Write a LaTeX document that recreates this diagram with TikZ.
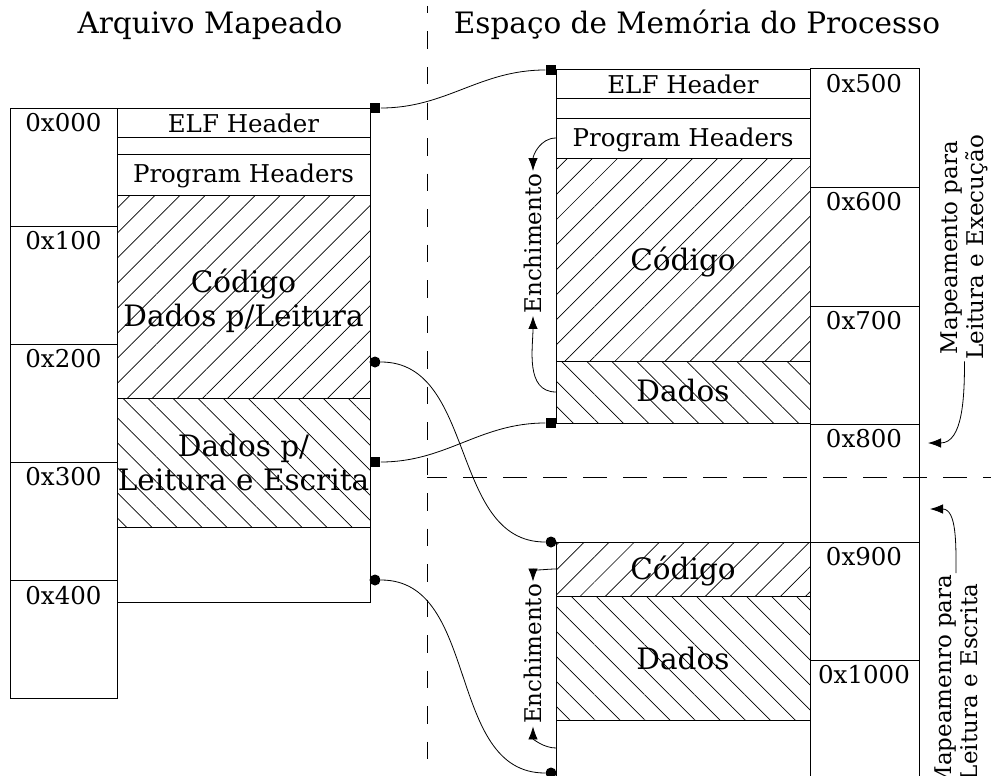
\documentclass[tikz,border=0pt]{standalone}
\usepackage{fontspec}
\setmainfont{DejaVu Serif}
\usetikzlibrary{arrows.meta,patterns.meta}

\begin{document}
\begin{tikzpicture}[x=1pt, y=1pt, line width=1pt,
        small/.style={font=\fontsize{24.5}{28}\selectfont},
        side/.style={font=\fontsize{23}{26}\selectfont},
        big/.style={font=\fontsize{29.5}{34}\selectfont},
        sqmark/.style={fill=black, minimum size=10.5pt, inner sep=0pt},
        dotmark/.style={circle, fill=black, minimum size=11pt, inner sep=0pt},
        codehatch/.style={pattern={Lines[angle=45, distance=17.7pt, line width=0.7pt]}},
        datahatch/.style={pattern={Lines[angle=-45, distance=17.7pt, line width=0.7pt]}},
        fillarrow/.style={-{Latex[length=13pt, width=9.5pt]}, line width=0.8pt},
        vdash/.style={dash pattern=on 17.5pt off 18pt, dash phase=10pt},
        hdash/.style={dash pattern=on 24pt off 16pt, dash phase=4pt}]
        \useasboundingbox (0,0) rectangle (991,-776);

        \node[big, anchor=base] (tfile) at (210,-34) {Arquivo Mapeado};
        \node[big, anchor=base] (tmem) at (697,-34) {Espaço de Memória do Processo};

        \draw[vdash] (427,-6) -- (427,-776);
        \draw[hdash] (427,-477) -- (991,-477);

        % arquivo
        \draw (10,-108) rectangle (117,-698);
        \foreach \y in {226,344,462,580} \draw (10,-\y) -- (117,-\y);
        \foreach \y/\t [count=\i] in {131/0x000,249/0x100,367/0x200,485/0x300,604/0x400}
            \node[small, anchor=base] (faddr\i) at (63.5,-\y) {\t};
        \path[codehatch] (117,-195) rectangle (370,-398);
        \path[datahatch] (117,-398) rectangle (370,-527);
        \draw (117,-108) rectangle (370,-602);
        \foreach \y in {137,154,195,398,527} \draw (117,-\y) -- (370,-\y);
        \node[small, anchor=base] (felf) at (243.5,-132.3) {ELF Header};
        \node[small, anchor=base] (fph) at (243.5,-182.7) {Program Headers};
        \node[big, align=center] (fcode) at (243.5,-300.3) {Código\\Dados p/Leitura};
        \node[big, align=center] (fdata) at (243.5,-462.4) {Dados p/\\Leitura e Escrita};

        % memoria
        \path[codehatch] (556,-158) rectangle (810,-361);
        \path[datahatch] (556,-361) rectangle (810,-423);
        \draw (556,-70) rectangle (810,-423);
        \foreach \y in {98,118,158,361} \draw (556,-\y) -- (810,-\y);
        \path[codehatch] (556,-542) rectangle (810,-596);
        \path[datahatch] (556,-596) rectangle (810,-720);
        \draw (556,-790) -- (556,-542) -- (810,-542);
        \foreach \y in {596,720} \draw (556,-\y) -- (810,-\y);
        \draw (810,-790) -- (810,-69) -- (919,-69) -- (919,-790);
        \foreach \y in {187,306,424,542,660} \draw (810,-\y) -- (919,-\y);
        \foreach \y/\t [count=\i] in {92.5/0x500,210.5/0x600,329.5/0x700,447.5/0x800,565.5/0x900,683.5/0x1000}
            \node[small, anchor=base] (maddr\i) at (864,-\y) {\t};
        \node[small, anchor=base] (melf) at (683,-94) {ELF Header};
        \node[small, anchor=base] (mph) at (683,-146) {Program Headers};
        \node[big, anchor=base] (mcode) at (683,-270) {Código};
        \node[big, anchor=base] (mdata) at (683,-401.7) {Dados};
        \node[big, anchor=base] (mcodew) at (683,-579) {Código};
        \node[big, anchor=base] (mdataw) at (683,-669) {Dados};

        % ligacoes
        \node[sqmark] (fs1) at (375,-108) {};
        \node[dotmark] (fd1) at (375,-362) {};
        \node[sqmark] (fs2) at (375,-462) {};
        \node[dotmark] (fd2) at (375,-580) {};
        \node[sqmark] (ms1) at (551,-70) {};
        \node[sqmark] (ms2) at (551,-423) {};
        \node[dotmark] (md1) at (551,-542) {};
        \node[dotmark] (md2) at (551,-773) {};
        \draw[line width=0.8pt] (fs1) to[out=0, in=180] (ms1);
        \draw[line width=0.8pt] (fs2) to[out=0, in=180] (ms2);
        \draw[line width=0.8pt] (fd1) to[out=0, in=180] (md1);
        \draw[line width=0.8pt] (fd2) to[out=0, in=180] (md2);

        % enchimento
        \node[side, rotate=90, inner sep=2pt] (padx) at (533,-243.5) {Enchimento};
        \node[side, rotate=90, inner sep=2pt] (padw) at (533,-654) {Enchimento};
        \coordinate (padx1) at (556,-138);
        \coordinate (padx2) at (556,-392);
        \coordinate (padw1) at (556,-569);
        \coordinate (padw2) at (556,-748);
        \draw[fillarrow] (padx1) to[out=180, in=90] (padx.east);
        \draw[fillarrow] (padx2) to[out=180, in=-90] (padx.west);
        \draw[fillarrow] (padw1) to[out=180, in=90] (padw.east);
        \draw[fillarrow] (padw2) to[out=180, in=-90] (padw.west);

        \node[side, rotate=90, align=center, inner sep=1pt] (maprx) at (964.5,-247.5) {Mapeamento para\\Leitura e Execução};
        \node[side, rotate=90, align=center, inner sep=1pt] (maprw) at (956,-682) {Mapeamenro para\\Leitura e Escrita};
        \coordinate (rxtip) at (928,-443);
        \coordinate (rwtip) at (930,-509);
        \draw[fillarrow] (maprx.west) to[out=-90, in=0] (rxtip);
        \draw[fillarrow] (maprw.east) to[out=90, in=0] (rwtip);
    \end{tikzpicture}
\end{document}
